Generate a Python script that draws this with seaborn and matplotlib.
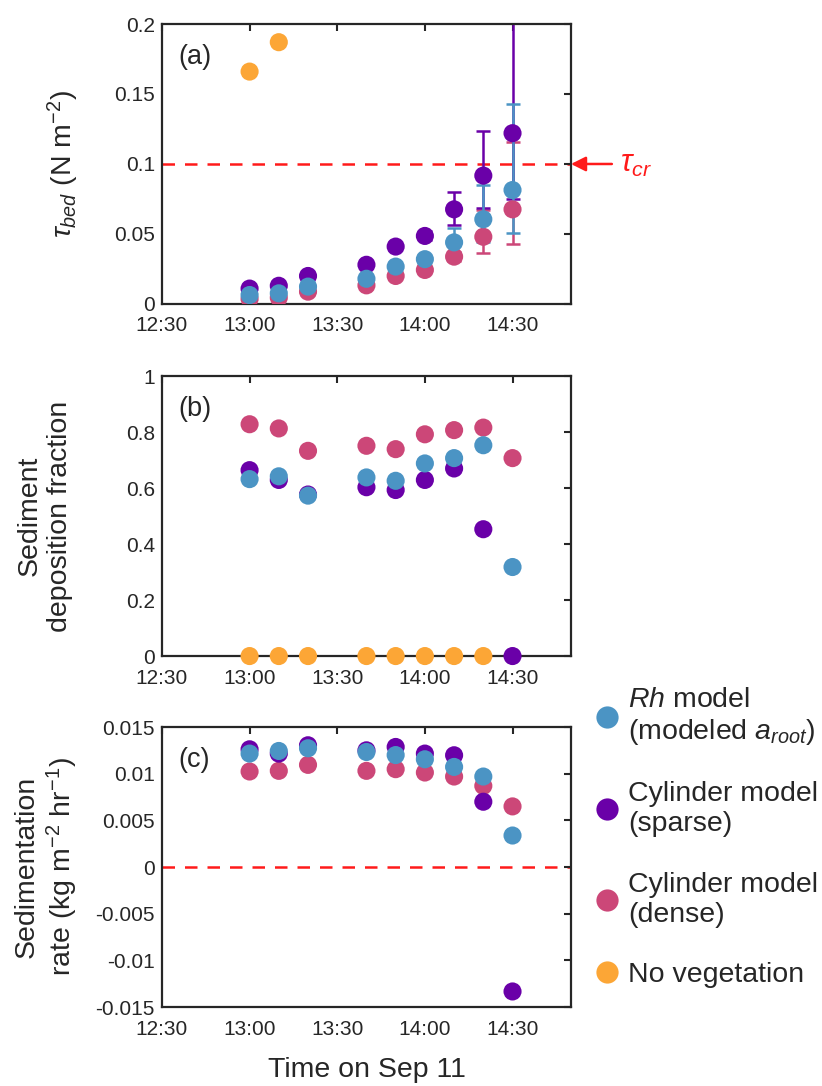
import numpy as np
import pandas as pd
import matplotlib
matplotlib.use("Agg")
import matplotlib.pyplot as plt
import matplotlib.dates as mdates
from matplotlib.lines import Line2D
import seaborn as sns

# ---------------- data ----------------
times = ["13:00", "13:10", "13:20", "13:40", "13:50", "14:00", "14:10", "14:20", "14:30"]
series_names = ["Rh model", "Cylinder sparse", "Cylinder dense", "No vegetation"]

# (a) bed shear stress
tau_rh     = [0.0064, 0.0076, 0.0124, 0.0180, 0.0267, 0.0320, 0.0440, 0.0605, 0.0814]
tau_sparse = [0.0110, 0.0130, 0.0200, 0.0280, 0.0410, 0.0486, 0.0676, 0.0917, 0.1220]
tau_dense  = [0.0036, 0.0045, 0.0088, 0.0133, 0.0200, 0.0243, 0.0338, 0.0480, 0.0676]
tau_noveg  = [0.1660, 0.1870, np.nan, np.nan, np.nan, np.nan, np.nan, np.nan, np.nan]

# error-bar bounds (a)
tau_rh_lo     = [np.nan]*6 + [0.0355, 0.0445, 0.0505]
tau_rh_hi     = [np.nan]*6 + [0.0540, 0.0850, 0.1430]
tau_sparse_lo = [np.nan]*5 + [0.0455, 0.0564, 0.0683, 0.0750]
tau_sparse_hi = [np.nan]*5 + [0.0520, 0.0802, 0.1236, 0.2600]
tau_dense_lo  = [np.nan]*6 + [0.0310, 0.0362, 0.0429]
tau_dense_hi  = [np.nan]*6 + [0.0370, 0.0670, 0.1160]

# (b) sediment deposition fraction
frac_rh     = [0.632, 0.642, 0.573, 0.638, 0.626, 0.688, 0.707, 0.753, 0.318]
frac_sparse = [0.664, 0.629, 0.577, 0.603, 0.593, 0.629, 0.670, 0.453, 0.000]
frac_dense  = [0.828, 0.813, 0.733, 0.751, 0.739, 0.792, 0.807, 0.816, 0.707]
frac_noveg  = [0, 0, 0, 0, 0, 0, 0, 0, np.nan]

# (c) sedimentation rate
rate_rh     = [0.01216, 0.01244, 0.01273, 0.01233, 0.01200, 0.01155, 0.01073, 0.00970, 0.00338]
rate_sparse = [0.01262, 0.01216, 0.01305, 0.01251, 0.01287, 0.01216, 0.01198, 0.00700, -0.01333]
rate_dense  = [0.01024, 0.01031, 0.01095, 0.01031, 0.01049, 0.01013, 0.00970, 0.00870, 0.00650]
rate_noveg  = [np.nan]*9

xtick_labels = ["12:30", "13:00", "13:30", "14:00", "14:30"]
yticks_a = [0, 0.05, 0.1, 0.15, 0.2]
yticks_b = [0, 0.2, 0.4, 0.6, 0.8, 1]
yticks_c = [-0.015, -0.01, -0.005, 0, 0.005, 0.01, 0.015]
tau_cr = 0.1

colors = {"Rh model": "#4b94c4", "Cylinder sparse": "#6a00a8",
          "Cylinder dense": "#cc4778", "No vegetation": "#fca636"}
draw_order = ["No vegetation", "Cylinder dense", "Cylinder sparse", "Rh model"]

# ---------------- style ----------------
sns.set_theme(style="white")
plt.rcParams["font.family"] = ["Liberation Sans", "DejaVu Sans"]
plt.rcParams["mathtext.fontset"] = "custom"
plt.rcParams["mathtext.rm"] = "Liberation Sans"
plt.rcParams["mathtext.it"] = "Liberation Sans:italic"
plt.rcParams["mathtext.bf"] = "Liberation Sans:bold"
plt.rcParams["axes.unicode_minus"] = False

day = "2019-09-11 "
t = pd.to_datetime([day + s for s in times])
xt = pd.to_datetime([day + s for s in xtick_labels])
xlim = (pd.Timestamp(day + "12:30"), pd.Timestamp(day + "14:50"))

def long_df(vals):
    rows = []
    for name in draw_order:
        for ti, v in zip(t, vals[name]):
            if not np.isnan(v):
                rows.append({"time": ti, "value": v, "series": name})
    return pd.DataFrame(rows)

fig = plt.figure(figsize=(8.22, 10.86), dpi=100)
L, W, H = 0.197, 0.4976, 0.2578
ax_a = fig.add_axes([L, 0.7201, W, H])
ax_b = fig.add_axes([L, 0.3959, W, H])
ax_c = fig.add_axes([L, 0.0727, W, H])

tick_color = "#262626"
red = "#ff1a1a"

def style_ax(ax, yticks, ylim):
    ax.set_xlim(*xlim)
    ax.set_xticks(xt)
    ax.xaxis.set_major_formatter(mdates.DateFormatter("%H:%M"))
    ax.set_ylim(*ylim)
    ax.set_yticks(yticks)
    ax.set_yticklabels(["%g" % v for v in yticks])
    ax.tick_params(direction="in", length=5, width=1.5, top=True, right=True,
                   labelsize=15, colors=tick_color, pad=5)
    ax.tick_params(axis="x", pad=9)
    for sp in ax.spines.values():
        sp.set_color(tick_color)
        sp.set_linewidth(1.6)
    ax.set_xlabel("")
    ax.set_ylabel("")

# (a)
vals_a = {"Rh model": tau_rh, "Cylinder sparse": tau_sparse,
          "Cylinder dense": tau_dense, "No vegetation": tau_noveg}
err_a = {"Cylinder dense": (tau_dense, tau_dense_lo, tau_dense_hi),
         "Cylinder sparse": (tau_sparse, tau_sparse_lo, tau_sparse_hi),
         "Rh model": (tau_rh, tau_rh_lo, tau_rh_hi)}
for name in ["Cylinder dense", "Cylinder sparse", "Rh model"]:
    v, lo, hi = (np.array(a, dtype=float) for a in err_a[name])
    m = ~np.isnan(lo)
    ax_a.errorbar(t[m], v[m], yerr=[v[m] - lo[m], hi[m] - v[m]], fmt="none",
                  ecolor=colors[name], elinewidth=1.8, capsize=5, capthick=1.8, zorder=1)
ax_a.axhline(tau_cr, color=red, ls=(0, (5, 4)), lw=1.8, zorder=0.5)
sns.scatterplot(data=long_df(vals_a), x="time", y="value", hue="series",
                palette=colors, s=170, linewidth=0, legend=False, ax=ax_a, zorder=3)
style_ax(ax_a, yticks_a, (0, 0.2))
ax_a.text(0.04, 0.93, "(a)", transform=ax_a.transAxes, fontsize=19.5, va="top", ha="left")
ax_a.set_ylabel(r"$\tau_{bed}$ (N m$^{-2}$)", fontsize=20.5, labelpad=24)
ax_a.annotate("", xy=(1.0, tau_cr), xycoords=("axes fraction", "data"),
              xytext=(1.10, tau_cr), textcoords=("axes fraction", "data"),
              arrowprops=dict(arrowstyle="-|>", color=red, lw=1.8,
                              mutation_scale=22, shrinkA=0, shrinkB=0),
              annotation_clip=False)
ax_a.text(1.12, tau_cr, r"$\tau_{cr}$", transform=ax_a.get_yaxis_transform(),
          color=red, fontsize=22, va="center", ha="left")

# (b)
vals_b = {"Rh model": frac_rh, "Cylinder sparse": frac_sparse,
          "Cylinder dense": frac_dense, "No vegetation": frac_noveg}
sns.scatterplot(data=long_df(vals_b), x="time", y="value", hue="series",
                palette=colors, s=170, linewidth=0, legend=False, ax=ax_b,
                zorder=3, clip_on=False)
style_ax(ax_b, yticks_b, (0, 1))
ax_b.text(0.04, 0.93, "(b)", transform=ax_b.transAxes, fontsize=19.5, va="top", ha="left")
ax_b.set_ylabel("Sediment\ndeposition fraction", fontsize=20.5, labelpad=38)

# (c)
vals_c = {"Rh model": rate_rh, "Cylinder sparse": rate_sparse,
          "Cylinder dense": rate_dense, "No vegetation": rate_noveg}
ax_c.axhline(0, color=red, ls=(0, (5, 4)), lw=1.8, zorder=0.5)
sns.scatterplot(data=long_df(vals_c), x="time", y="value", hue="series",
                palette=colors, s=170, linewidth=0, legend=False, ax=ax_c, zorder=3)
style_ax(ax_c, yticks_c, (-0.015, 0.015))
ax_c.text(0.04, 0.93, "(c)", transform=ax_c.transAxes, fontsize=19.5, va="top", ha="left")
ax_c.set_ylabel("Sedimentation\nrate (kg m$^{-2}$ hr$^{-1}$)", fontsize=20.5, labelpad=11)
ax_c.set_xlabel("Time on Sep 11", fontsize=20.5, labelpad=13)

# legend
legend_labels = ["$\\mathit{Rh}$ model\n(modeled $\\mathit{a}_{root}$)",
                 "Cylinder model\n(sparse)", "Cylinder model\n(dense)", "No vegetation"]
handles = [Line2D([], [], ls="none", marker="o", markersize=16, markeredgewidth=0,
                  color=colors[n]) for n in series_names]
fig.legend(handles, legend_labels, loc="upper left", bbox_to_anchor=(0.7107, 0.378),
           frameon=False, fontsize=20.5, handlelength=0.8, handletextpad=0.34,
           labelspacing=1.2, borderaxespad=0)

fig.savefig("out.png", dpi=100)
